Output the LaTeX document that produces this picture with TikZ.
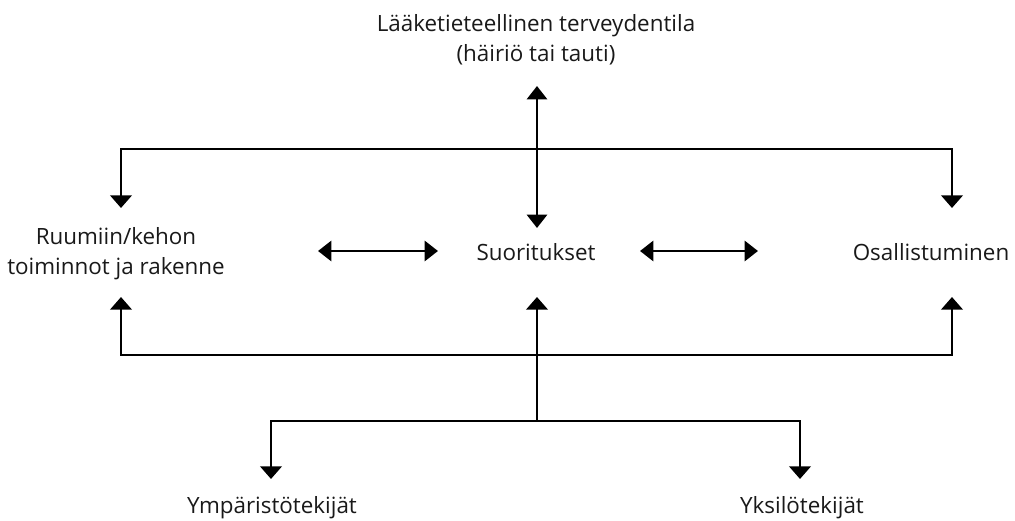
\documentclass[tikz,border=0pt]{standalone}
\usepackage{fontspec}
\setmainfont{Open Sans}
\usetikzlibrary{arrows.meta}
\begin{document}
\begin{tikzpicture}[x=0.75pt,y=-0.75pt,
  lbl/.style={font=\fontsize{16.8}{22.5}\selectfont, align=center, inner sep=0pt, text=black!90},
  conn/.style={line width=2.2pt, black},
  tip/.style={-{Triangle[width=16pt,length=9.5pt]}},
  dtip/.style={{Triangle[width=15pt,length=10pt]}-{Triangle[width=15pt,length=10pt]}}]
\useasboundingbox (0,0) rectangle (1015,521);
% labels
\node[lbl] (health) at (536,40) {Lääketieteellinen terveydentila\\(häiriö tai tauti)};
\node[lbl] (body) at (116,254) {Ruumiin/kehon\\toiminnot ja rakenne};
\node[lbl] (act) at (536,252) {Suoritukset};
\node[lbl] (part) at (931,252) {Osallistuminen};
\node[lbl] (env) at (272,508) {Ympäristötekijät};
\node[lbl] (pers) at (802,508) {Yksilötekijät};
% coordinates
\coordinate (ctop) at (537,86);
\coordinate (cbot) at (537,228);
\coordinate (tl) at (121,149);
\coordinate (tr) at (952,149);
\coordinate (tlt) at (121,208);
\coordinate (trt) at (952,208);
\coordinate (bl) at (121,355);
\coordinate (br) at (952,355);
\coordinate (blt) at (121,297);
\coordinate (brt) at (952,297);
\coordinate (bct) at (537,297);
\coordinate (bcj) at (537,421);
\coordinate (el) at (271,421);
\coordinate (er) at (800,421);
\coordinate (elt) at (271,479);
\coordinate (ert) at (800,479);
\coordinate (h1a) at (318,251);
\coordinate (h1b) at (438,251);
\coordinate (h2a) at (640,251);
\coordinate (h2b) at (758,251);
% connectors
\draw[conn,dtip] (ctop) -- (cbot);
\draw[conn,tip] (tr) -- (tl) -- (tlt);
\draw[conn,tip] (tl) -- (tr) -- (trt);
\draw[conn,tip] (br) -- (bl) -- (blt);
\draw[conn,tip] (bl) -- (br) -- (brt);
\draw[conn,tip] (bcj) -- (bct);
\draw[conn,tip] (er) -- (el) -- (elt);
\draw[conn,tip] (el) -- (er) -- (ert);
\draw[conn,dtip] (h1a) -- (h1b);
\draw[conn,dtip] (h2a) -- (h2b);
\end{tikzpicture}
\end{document}
